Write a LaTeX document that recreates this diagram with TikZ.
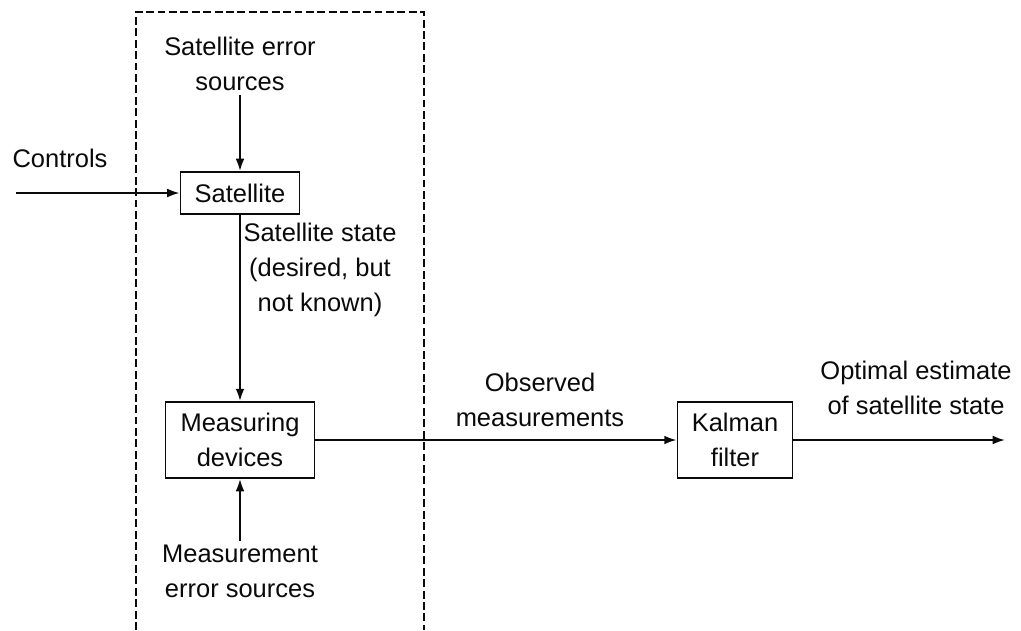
\documentclass[tikz,border=0pt]{standalone}
\usepackage{fontspec}
\setmainfont{Liberation Sans}
\usetikzlibrary{arrows.meta,positioning}
\definecolor{ink}{RGB}{10,10,10}

\begin{document}
\begin{tikzpicture}[x=0.02cm,y=-0.02cm,
    txt/.style={font=\fontsize{14.5}{20}\selectfont,text=ink,align=center,inner sep=2pt},
    blk/.style={draw=ink,line width=1.1pt,font=\fontsize{14.5}{20}\selectfont,text=ink,align=center,inner sep=2pt},
    flow/.style={-{Latex[length=7pt,width=5pt]},draw=ink,line width=1.1pt}]
        \useasboundingbox (0,0) rectangle (1021,630);
        % system boundary, open at the bottom
        \draw[ink,line width=0.6pt,dash pattern=on 4.5pt off 2pt] (136,630) -- (136,12) -- (424,12) -- (424,630);
        \node[blk,minimum width=2.38cm,minimum height=0.84cm] (sat) at (240,193) {Satellite};
        \node[blk,minimum width=2.98cm,minimum height=1.52cm] (meas) at (240,440) {Measuring\\devices};
        \node[blk,minimum width=2.3cm,minimum height=1.52cm] (kal) at (735,440) {Kalman\\filter};
        \node[txt] (src) at (240,64) {Satellite error\\sources};
        \node[txt] (ctl) at (60,158) {Controls};
        \node[txt] (state) at (320,270) {Satellite state\\(desired, but\\not known)};
        \node[txt] (merr) at (240,571) {Measurement\\error sources};
        \node[txt] (obs) at (540,400) {Observed\\measurements};
        \node[txt] (opt) at (916,388) {Optimal estimate\\of satellite state};
        \coordinate (cin) at (16,193);
        \coordinate (out) at (1005,440);
        \draw[flow] (src.south) -- (sat.north);
        \draw[flow] (cin) -- (sat.west);
        \draw[flow] (sat.south) -- (meas.north);
        \draw[flow] (merr.north) -- (meas.south);
        \draw[flow] (meas.east) -- (kal.west);
        \draw[flow] (kal.east) -- (out);
      \end{tikzpicture}
\end{document}
